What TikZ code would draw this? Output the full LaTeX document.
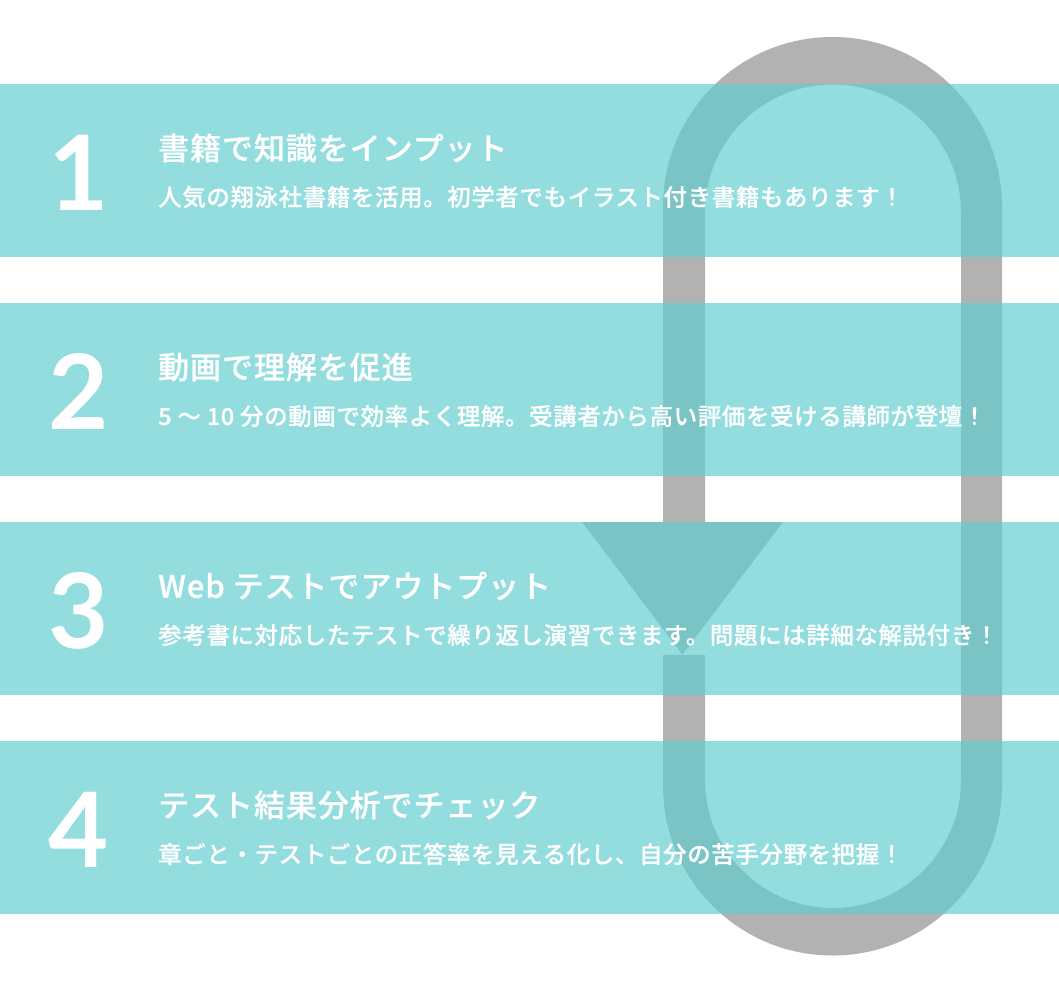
\documentclass[tikz,border=0pt]{standalone}
\usepackage{fontspec}
\newfontfamily\jptitle{Noto Sans CJK JP Medium}[LetterSpace=3,FakeBold=0.5]
\newfontfamily\jpsub{Noto Sans CJK JP Medium}[LetterSpace=2.5,FakeBold=0.5]
\newfontfamily\numfont{Lato}
\definecolor{loopgray}{RGB}{178,178,178}
\definecolor{bandteal}{RGB}{96,206,209}
\tikzset{
  bandbox/.style={fill=bandteal, fill opacity=0.675},
  numtext/.style={text=white, inner sep=0pt, anchor=base, font=\numfont\bfseries\fontsize{104}{104}\selectfont},
  titletext/.style={text=white, inner sep=0pt, anchor=west, font=\jptitle\fontsize{31}{31}\selectfont},
  subtext/.style={text=white, inner sep=0pt, anchor=west, font=\jpsub\fontsize{23.5}{23.5}\selectfont},
}
\begin{document}
\begin{tikzpicture}[x=1pt,y=-1pt]
\useasboundingbox (0,0) rectangle (1059,993);
\fill[white] (0,0) rectangle (1059,993);
% gray loop
\fill[loopgray, even odd rule]
  (663,206.5) arc[start angle=180,end angle=360,radius=169.5] -- (1002,786)
  arc[start angle=0,end angle=180,radius=169.5] -- cycle
  (705,212.5) arc[start angle=180,end angle=360,radius=128] -- (961,780)
  arc[start angle=0,end angle=180,radius=128] -- cycle;
\fill[white] (658,522) rectangle (710,655);
\fill[loopgray] (582,522) -- (783,522) -- (682.5,654.5) -- cycle;
% bands
\foreach \t in {84,303,522,741}{
  \fill[bandbox] (0,\t) rectangle (1059,\t+172.5);
}
% texts
\node[numtext] (n1) at (79,210) {1};
\node[titletext] (t1) at (158,148) {書籍で知識をインプット};
\node[subtext] (s1) at (158,197) {人気の翔泳社書籍を活用。初学者でもイラスト付き書籍もあります！};
\node[numtext] (n2) at (79,429) {2};
\node[titletext] (t2) at (158,367) {動画で理解を促進};
\node[subtext] (s2) at (158,416) {5 ～ 10 分の動画で効率よく理解。受講者から高い評価を受ける講師が登壇！};
\node[numtext] (n3) at (79,648) {3};
\node[titletext] (t3) at (158,586) {Web テストでアウトプット};
\node[subtext] (s3) at (158,635) {参考書に対応したテストで繰り返し演習できます。問題には詳細な解説付き！};
\node[numtext] (n4) at (79,867) {4};
\node[titletext] (t4) at (158,805) {テスト結果分析でチェック};
\node[subtext] (s4) at (158,854) {章ごと・テストごとの正答率を見える化し、自分の苦手分野を把握！};
\end{tikzpicture}
\end{document}
